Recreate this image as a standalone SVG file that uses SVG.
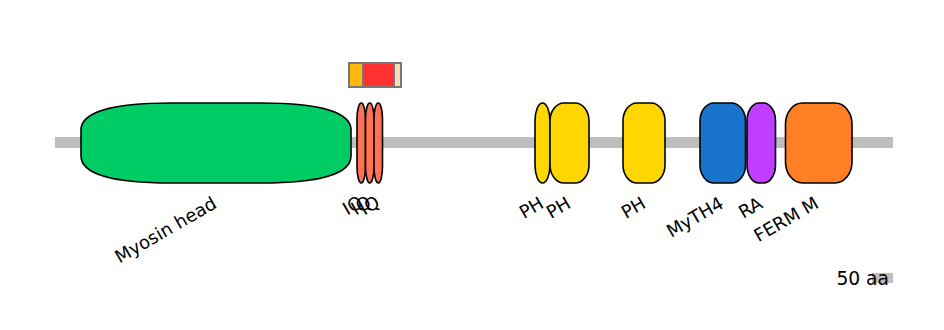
<svg xmlns="http://www.w3.org/2000/svg" width="944" height="330" viewBox="0 0 944 330">
<style>
.dom{stroke:#000;stroke-width:1.6}
.lbl{font-family:"DejaVu Sans",sans-serif;font-size:18px;fill:#000;text-anchor:end}
.box{stroke:#777;stroke-width:2}
</style>
<rect width="944" height="330" fill="#fff"/>
<g id="connectors">
<rect id="backbone" x="55" y="137" width="838" height="11" fill="#bebebe"/>
</g>
<g id="motif-box">
<rect x="349" y="63" width="14" height="24" fill="#ffb90f"/>
<rect x="363" y="63" width="31" height="24" fill="#ff3030"/>
<rect x="394" y="63" width="7" height="24" fill="#f5deb3"/>
<line x1="363" y1="63" x2="363" y2="87" class="box"/>
<line x1="394" y1="63" x2="394" y2="87" class="box"/>
<rect x="349" y="63" width="52" height="24" fill="none" class="box"/>
</g>
<g id="myosin-head">
<path class="dom" fill="#00cc66" d="M81,130 C81,110 120,103 171,103 H261 C312,103 351,110 351,130 V156 C351,176 312,183 261,183 H171 C120,183 81,176 81,156 Z"/>
<text class="lbl" transform="translate(218,207) rotate(-30)">Myosin head</text>
</g>
<g id="iq1">
<rect class="dom" fill="#ff7256" x="357" y="103" width="8.5" height="80" rx="4.25" ry="16"/>
<text class="lbl" transform="translate(364,206) rotate(-30)">IQ</text>
</g>
<g id="iq2">
<rect class="dom" fill="#ff7256" x="365.5" y="103" width="8.5" height="80" rx="4.25" ry="16"/>
<text class="lbl" transform="translate(372.5,206) rotate(-30)">IQ</text>
</g>
<g id="iq3">
<rect class="dom" fill="#ff7256" x="374" y="103" width="8.5" height="80" rx="4.25" ry="16"/>
<text class="lbl" transform="translate(381,206) rotate(-30)">IQ</text>
</g>
<g id="ph1">
<rect class="dom" fill="#ffd700" x="535" y="103" width="15" height="80" rx="7.5" ry="18"/>
<text class="lbl" transform="translate(545,207) rotate(-30)">PH</text>
</g>
<g id="ph2">
<rect class="dom" fill="#ffd700" x="550" y="103" width="39" height="80" rx="14" ry="18"/>
<text class="lbl" transform="translate(572,207) rotate(-30)">PH</text>
</g>
<g id="ph3">
<rect class="dom" fill="#ffd700" x="623" y="103" width="42" height="80" rx="14" ry="18"/>
<text class="lbl" transform="translate(647,207) rotate(-30)">PH</text>
</g>
<g id="myth4">
<rect class="dom" fill="#1874cd" x="700" y="103" width="45.5" height="80" rx="14" ry="18"/>
<text class="lbl" transform="translate(725,207) rotate(-30)">MyTH4</text>
</g>
<g id="ra">
<rect class="dom" fill="#bf3eff" x="747" y="103" width="28.5" height="80" rx="12" ry="18"/>
<text class="lbl" transform="translate(764,207) rotate(-30)">RA</text>
</g>
<g id="ferm-m">
<rect class="dom" fill="#ff7f24" x="785.5" y="103" width="66.5" height="80" rx="17" ry="21"/>
<text class="lbl" transform="translate(820,207) rotate(-30)">FERM M</text>
</g>
<g id="scale">
<rect x="872" y="273" width="21" height="10" fill="#bebebe"/>
<text x="889" y="285" class="lbl" style="font-size:18.7px">50 aa</text>
</g>
</svg>
